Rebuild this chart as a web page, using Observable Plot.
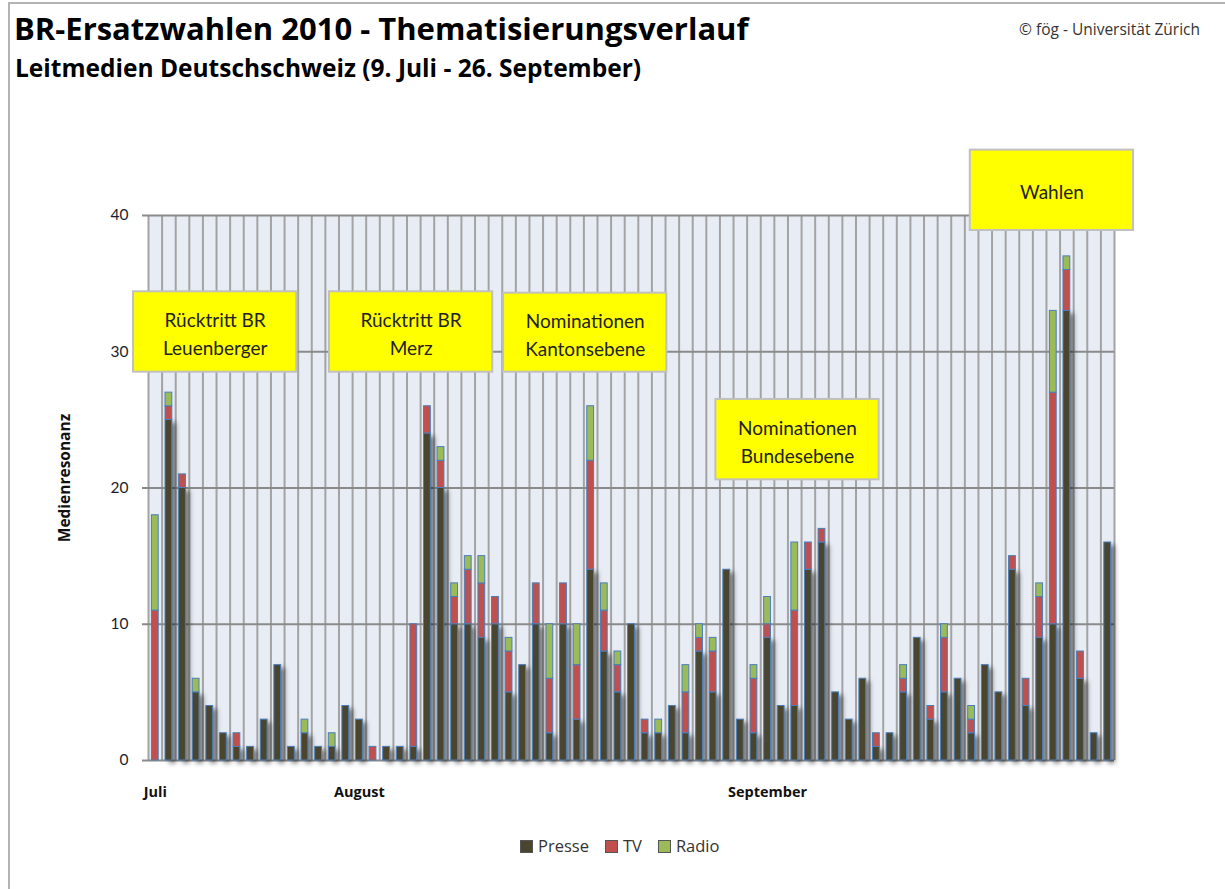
<!DOCTYPE html>
<html>
<head>
<meta charset="utf-8">
<script src="https://cdn.jsdelivr.net/npm/d3@7"></script>
<script src="https://cdn.jsdelivr.net/npm/@observablehq/plot@0.6"></script>
<style>
  body { margin: 0; background: #fff; font-family: "Open Sans", Lato, sans-serif; }
  #wrap { position: relative; width: 1225px; height: 889px; overflow: hidden; background: #fff; }
  #border { position: absolute; left: 8px; top: 2px; width: 1400px; height: 1000px;
            border-left: 2px solid #b4b4b4; border-top: 2px solid #b4b4b4; }
  #title { position: absolute; left: 14px; top: 12.5px; font-weight: 700; font-size: 31px; line-height: 31px; color: #000; white-space: nowrap; }
  #subtitle { position: absolute; left: 15px; top: 56px; font-weight: 700; font-size: 24.5px; line-height: 24.5px; color: #000; white-space: nowrap; }
  #copy { position: absolute; right: 25px; top: 22px; font-size: 15.5px; line-height: 15.5px; color: #333; white-space: nowrap; }
  #chart { position: absolute; left: 0; top: 100px; }
  #legend { position: absolute; left: 520px; top: 838px; display: flex; align-items: center; font-size: 16.5px; line-height: 16.5px; color: #333; }
  .item { display: flex; align-items: center; margin-right: 16px; }
  .sw { width: 11px; height: 11px; border: 1px solid #555; margin-right: 5px; }
</style>
</head>
<body>
<div id="wrap">
  <div id="border"></div>
  <div id="title">BR-Ersatzwahlen 2010 - Thematisierungsverlauf</div>
  <div id="subtitle">Leitmedien Deutschschweiz (9. Juli - 26. September)</div>
  <div id="copy">© fög - Universität Zürich</div>
  <div id="chart"></div>
  <div id="legend"></div>
</div>
<script>
// ---- data (one value per day shown, 71 days) ----
const presse = [0,25,20,5,4,2,1,1,3,7,1,2,1,1,4,3,0,1,1,1,24,20,10,10,9,10,5,7,10,2,10,3,14,8,5,10,2,2,4,2,8,5,14,3,2,9,4,4,14,16,5,3,6,1,2,5,9,3,5,6,2,7,5,14,4,9,10,33,6,2,16];
const tv     = [11,1,1,0,0,0,1,0,0,0,0,0,0,0,0,0,1,0,0,9,2,2,2,4,4,2,3,0,3,4,3,4,8,3,2,0,1,0,0,3,1,3,0,0,4,1,0,7,2,1,0,0,0,1,0,1,0,1,4,0,1,0,0,1,2,3,17,3,2,0,0];
const radio  = [7,1,0,1,0,0,0,0,0,0,0,1,0,1,0,0,0,0,0,0,0,1,1,1,2,0,1,0,0,4,0,3,4,2,1,0,0,1,0,2,1,1,0,0,1,2,0,5,0,0,0,0,0,0,0,1,0,0,1,0,1,0,0,0,0,1,6,1,0,0,0];
const seriesNames = ["Presse", "TV", "Radio"];
const seriesColors = ["#4a452c", "#c0504d", "#9bbb59"];
const monthLabels = ["Juli", "August", "September"];
const monthStartIndex = [0, 15, 45];
const yTicks = [0, 10, 20, 30, 40];
// annotation boxes, anchored in data units (day index, Medienresonanz)
const annotations = [
  {label: "Rücktritt BR\nLeuenberger", x1: -1.1, x2: 10.9, y1: 28.5, y2: 34.4},
  {label: "Rücktritt BR\nMerz",        x1: 13.3, x2: 25.3, y1: 28.5, y2: 34.4},
  {label: "Nominationen\nKantonsebene", x1: 26.1, x2: 38.1, y1: 28.5, y2: 34.3},
  {label: "Nominationen\nBundesebene",  x1: 41.7, x2: 53.7, y1: 20.6, y2: 26.5},
  {label: "Wahlen",                     x1: 60.4, x2: 72.4, y1: 38.9, y2: 44.8}
];

const seriesValues = [presse, tv, radio];
const rows = [];
presse.forEach((_, i) => {
  seriesNames.forEach((s, k) => {
    const v = seriesValues[k][i];
    if (v > 0) rows.push({day: i, series: s, value: v});
  });
});
const presseRows = rows.filter(d => d.series === "Presse");
const boundaries = d3.range(presse.length + 1);
const inset = 3.4;

const plot = Plot.plot({
  width: 1225,
  height: 720,
  marginTop: 115,
  marginBottom: 60,
  marginLeft: 148,
  marginRight: 111,
  style: {fontFamily: "Lato, 'Open Sans', sans-serif", background: "transparent", overflow: "visible"},
  x: {type: "linear", domain: [0, presse.length], axis: null},
  y: {domain: [0, 40], axis: null, label: null},
  color: {domain: seriesNames, range: seriesColors},
  marks: [
    Plot.frame({fill: "#e8edf5", stroke: null}),
    Plot.ruleX(boundaries, {stroke: "#a3a3a3", strokeWidth: 2}),
    Plot.ruleY(yTicks, {stroke: "#8a8a8a", strokeWidth: 2, insetLeft: -6}),
    Plot.axisY({ticks: yTicks, tickSize: 0, tickPadding: 20, fontSize: 15.5, fill: "#1c1c2c", label: null}),
    Plot.axisX({ticks: monthStartIndex.map(i => i + 0.5), tickFormat: d => monthLabels[monthStartIndex.indexOf(d - 0.5)],
                tickSize: 0, tickPadding: 26, fontSize: 14.5, fontWeight: "bold", fontFamily: "'Open Sans', sans-serif", fill: "#111", label: null}),
    Plot.text(["Medienresonanz"], {frameAnchor: "left", textAnchor: "middle", rotate: -90, dx: -83, dy: -10,
                                   fontWeight: "bold", fontSize: 15.5, fontFamily: "'Open Sans', sans-serif", fill: "#111"}),
    Plot.rect(presseRows, {x1: "day", x2: d => d.day + 1, y1: 0, y2: "value", insetLeft: inset, insetRight: inset,
                           dx: 4, dy: 3, fill: "#000", fillOpacity: 0.55, ariaDescription: "shadow"}),
    Plot.rect(rows, Plot.stackY({x1: "day", x2: d => d.day + 1, y: "value", fill: "series",
                                 insetLeft: inset, insetRight: inset, stroke: "#4a7ebb", strokeWidth: 1})),
    Plot.rect(annotations, {x1: "x1", x2: "x2", y1: "y1", y2: "y2", fill: "#ffff00", stroke: "#c0c0c0", strokeWidth: 2}),
    Plot.text(annotations, {x: d => (d.x1 + d.x2) / 2, y: d => (d.y1 + d.y2) / 2, text: "label",
                            fontSize: 19, lineHeight: 1.5, fill: "#222"})
  ]
});

// blur filter for the bar shadow
const svg = d3.select(plot);
const defs = svg.insert("defs", ":first-child");
defs.append("filter").attr("id", "shadowBlur").attr("x", "-50%").attr("y", "-10%").attr("width", "200%").attr("height", "120%")
  .append("feGaussianBlur").attr("stdDeviation", 2.4);
svg.select('[aria-description="shadow"]').attr("filter", "url(#shadowBlur)");

document.getElementById("chart").appendChild(plot);

// legend
const legend = d3.select("#legend");
seriesNames.forEach((s, k) => {
  const it = legend.append("div").attr("class", "item");
  it.append("div").attr("class", "sw").style("background", seriesColors[k]);
  it.append("span").text(s);
});
</script>
</body>
</html>
